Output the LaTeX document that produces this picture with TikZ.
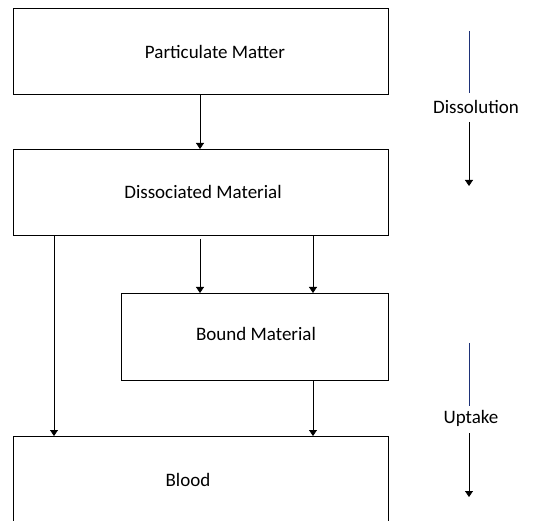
\documentclass[tikz,border=0pt]{standalone}
\usepackage{fontspec}
\setmainfont{Carlito}
\usetikzlibrary{arrows.meta}
\definecolor{sideblue}{RGB}{30,50,120}
\tikzset{
  box/.style={draw, line width=0.8pt, rectangle, inner sep=0pt, anchor=north west},
  lbl/.style={font=\fontsize{19}{22}\selectfont, inner sep=0pt},
  arr/.style={line width=0.8pt, -{Triangle[width=8pt,length=6pt]}},
  bline/.style={line width=0.8pt, draw=sideblue}
}
\begin{document}
\begin{tikzpicture}[x=1pt,y=-1pt]
\clip (0,0) rectangle (549,521);
\fill[white] (0,0) rectangle (549,521);
% boxes
\node[box, minimum width=375pt, minimum height=86pt] (pm) at (13,8) {};
\node[lbl] (pmt) at (215,52) {Particulate Matter};
\node[box, minimum width=375pt, minimum height=86pt] (dm) at (13,149) {};
\node[lbl] (dmt) at (203,192) {Dissociated Material};
\node[box, minimum width=267pt, minimum height=87pt] (bm) at (121,293) {};
\node[lbl] (bmt) at (256,334) {Bound Material};
\node[box, minimum width=375pt, minimum height=120pt] (bl) at (13,436) {};
\node[lbl] (blt) at (188,480) {Blood};
% connectors
\draw[arr] (pm.south -| 200,0) -- (dm.north -| 200,0);
\draw[arr] (dm.south -| 54,0) -- (bl.north -| 54,0);
\draw[arr] ([yshift=-3pt]dm.south -| 200,0) -- (bm.north -| 200,0);
\draw[arr] (dm.south -| 313,0) -- (bm.north -| 313,0);
\draw[arr] (bm.south -| 313,0) -- (bl.north -| 313,0);
% side annotations
\coordinate (d1) at (469,31);
\coordinate (d2) at (469,93);
\coordinate (d3) at (469,122);
\coordinate (d4) at (469,186);
\node[lbl] (dis) at (476,107) {Dissolution};
\draw[bline] (d1) -- (d2);
\draw[arr] (d3) -- (d4);
\coordinate (u1) at (469,343);
\coordinate (u2) at (469,406);
\coordinate (u3) at (469,433);
\coordinate (u4) at (469,497);
\node[lbl] (upt) at (471,418) {Uptake};
\draw[bline] (u1) -- (u2);
\draw[arr] (u3) -- (u4);
\end{tikzpicture}
\end{document}
